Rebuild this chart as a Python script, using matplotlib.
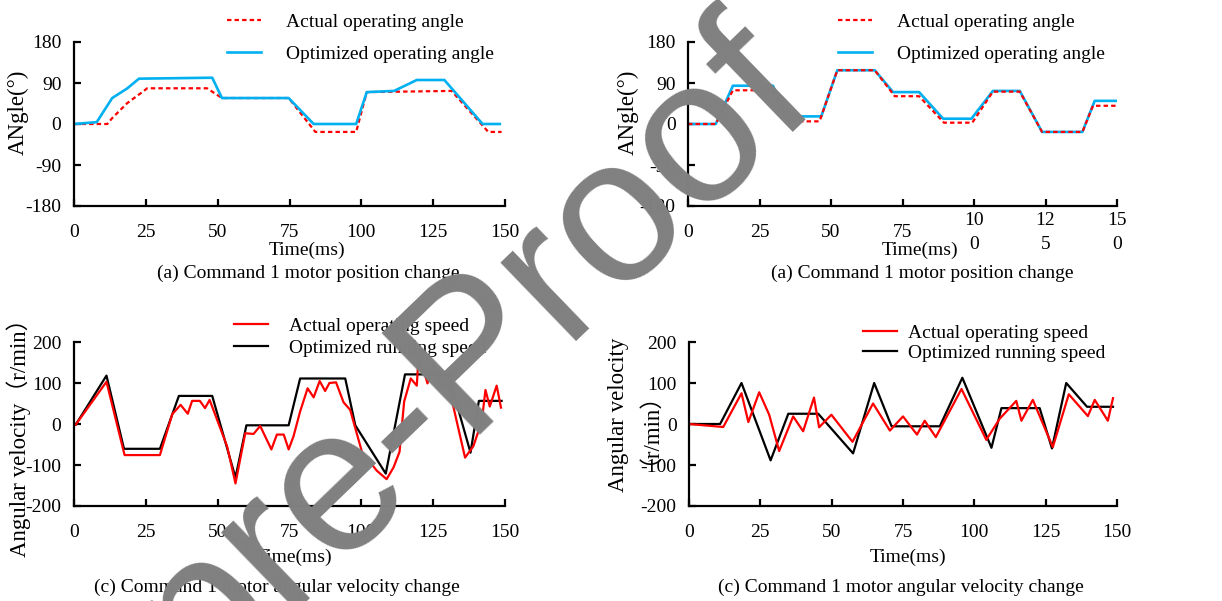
import matplotlib
matplotlib.use("Agg")
import matplotlib.pyplot as plt

W, H = 1222, 601

# ---- data ----
# (a) left: angle (deg) vs time (ms)
pos1_opt_t = [0, 7.9, 13.3, 18.5, 22.6, 48.1, 51.5, 74.7, 83.4, 98.2, 101.9, 111.4, 119.3, 128.9, 142.2, 148.2]
pos1_opt_v = [0, 4, 57, 78, 99.5, 101.6, 57, 57, 0, 0, 70, 72.6, 96.6, 96.6, 0, 0]
pos1_act_t = [0, 11.6, 13.3, 18.5, 23.2, 25.5, 46.3, 51.5, 74.7, 84, 98.2, 101.9, 131.4, 144.2, 148.8]
pos1_act_v = [0, 0, 13, 45.7, 67.5, 78.4, 78.4, 57, 57, -17.4, -17.4, 70, 72.6, -17.4, -17.4]

# (a) right
pos2_opt_t = [0, 9.7, 15.7, 29.7, 34.4, 46.6, 52.2, 65.3, 71.7, 80.8, 89.2, 99.1, 106.6, 116, 123.8, 137.9, 142.2, 150]
pos2_opt_v = [0, 0, 84, 84, 16.7, 16.7, 118, 118, 70, 70, 11.6, 11.6, 72.6, 72.6, -17.4, -17.4, 50.8, 50.8]
pos2_act_t = [0, 9.7, 15.7, 29.7, 35, 46, 52.2, 65.3, 72.3, 80.8, 89.5, 99.4, 106.6, 116, 123.8, 137.9, 141.6, 150]
pos2_act_v = [0, 0, 74, 74, 5.8, 5.8, 118, 118, 61, 61, 2.9, 2.9, 71, 71, -17.4, -17.4, 40, 40]

# (c) left: angular velocity (r/min)
vel1_opt_t = [0.6, 11.3, 17.4, 29.9, 36.5, 48.1, 56.2, 60, 74.7, 78.7, 94.4, 97.9, 108.5, 115.2, 130.3, 138, 140.9, 148.8]
vel1_opt_v = [-1.6, 118, -60.5, -60.5, 68.5, 68.5, -130.6, -3.2, -3.2, 111, 111, -3.2, -121, 121, 121, -70, 56.4, 56.4]
vel1_act_t = [0.6, 11.3, 17.6, 29.9, 34.2, 37.1, 39.6, 41.1, 43.8, 45.6, 47.2, 53.3, 56.2, 59.6, 62.5, 64.8,
              68.7, 70.6, 73, 74.7, 76.4, 78.7, 81.3, 83.4, 85.5, 87.4, 88.9, 91.2, 93.8, 96.1, 100.2, 105.4,
              108.8, 111.2, 113.3, 114.9, 117.2, 119.3, 119.8, 122.2, 123, 125.3, 127.1, 130.3, 136.1, 139,
              141.9, 143.2, 144.7, 147.1, 148.6]
vel1_act_v = [-1.6, 103, -75.8, -75.8, 24, 46.7, 25, 56.4, 56.4, 38.7, 58.8, -54.8, -145, -22.6, -24.2, -4.8,
              -62, -25.8, -25.8, -62, -30, 30.6, 87, 65, 104.8, 80.6, 100, 101.6, 53, 34.7, -67.7, -114,
              -134.6, -106, -67.7, 54.8, 111, 93.5, 151.5, 119, 99, 145, 99, 95, -82, -54,
              6.4, 83, 42.7, 93.5, 40]

# (c) right
vel2_opt_t = [0, 10.9, 18.4, 28.6, 34.8, 45.3, 57.5, 64.9, 71, 87.9, 95.8, 106, 109.5, 122.9, 127.2, 132.2, 139.5, 148.6]
vel2_opt_v = [0, 0, 100, -88.7, 25, 25, -71.7, 100, -5.6, -5.6, 112.8, -58, 38.7, 38.7, -59.6, 100, 42, 42]
vel2_act_t = [0, 12, 18.4, 20.8, 24.6, 28.1, 31.6, 36.5, 40, 43.8, 45.6, 49.9, 57.3, 64.5, 70.4, 75, 79.9,
              82.6, 86.5, 95.5, 104.2, 108.9, 114.7, 116.5, 120.5, 127.5, 133.1, 139.8, 142.2, 146.8, 148.6]
vel2_act_v = [0, -7.3, 75, 4.8, 77.4, 22.6, -66, 18.5, -17.7, 64.5, -8, 22.6, -43.5, 50, -16, 18.5, -25.8,
              8, -32, 85.4, -38.7, 13, 56.4, 8, 58.8, -56.4, 72.5, 19.3, 58.8, 8, 63]

x_ticks = [0, 25, 50, 75, 100, 125, 150]
x_labels = ["0", "25", "50", "75", "100", "125", "150"]
x_labels_wrapped = ["0", "25", "50", "75", "10\n0", "12\n5", "15\n0"]
ang_ticks = [-180, -90, 0, 90, 180]
vel_ticks = [-200, -100, 0, 100, 200]

SERIF = ["Liberation Serif", "Noto Sans CJK SC"]
FS = 14
FS_Y = 16.5
BLUE = "#00b0f0"
RED = "#ff0000"

plt.rcParams["font.family"] = SERIF
plt.rcParams["font.size"] = FS
plt.rcParams["axes.unicode_minus"] = False

fig = plt.figure(figsize=(W / 100, H / 100), dpi=100)


def fx(x):
    return x / W


def fy(y):
    return 1 - y / H


def make_axes(left, top, right, bottom):
    ax = fig.add_axes([fx(left), fy(bottom), fx(right) - fx(left), fy(top) - fy(bottom)])
    for s in ("top", "right"):
        ax.spines[s].set_visible(False)
    for s in ("left", "bottom"):
        ax.spines[s].set_linewidth(1.6)
    ax.tick_params(direction="in", length=5, width=1.6, labelsize=FS)
    ax.tick_params(axis="y", pad=9)
    ax.tick_params(axis="x", pad=19)
    ax.set_xlim(0, 150)
    return ax


def set_xticks(ax, labels):
    ax.set_xticks(x_ticks)
    ax.set_xticklabels(labels, linespacing=1.5)
    for lab in ax.get_xticklabels():
        lab.set_va("center")


def legend(ax, handles, labels, x, y, spacing, textpad):
    ax.legend(handles, labels, loc="center left", bbox_to_anchor=(fx(x), fy(y)),
              bbox_transform=fig.transFigure, frameon=False, borderpad=0,
              handlelength=1.75, handletextpad=textpad, labelspacing=spacing, fontsize=FS)


# ---- (a) left ----
ax1 = make_axes(74, 42, 505, 206)
l1, = ax1.plot(pos1_act_t, pos1_act_v, color=RED, lw=1.6, ls=(0, (2, 1.4)))
l2, = ax1.plot(pos1_opt_t, pos1_opt_v, color=BLUE, lw=1.9)
ax1.set_ylim(-180, 180)
ax1.set_yticks(ang_ticks)
set_xticks(ax1, x_labels)
legend(ax1, [l1, l2], ["Actual operating angle", "Optimized operating angle"], 217, 38, 0.75, 1.3)

# ---- (a) right ----
ax2 = make_axes(688, 42, 1117, 206)
l1, = ax2.plot(pos2_opt_t, pos2_opt_v, color=BLUE, lw=1.9)
l2, = ax2.plot(pos2_act_t, pos2_act_v, color=RED, lw=1.6, ls=(0, (2, 1.4)))
ax2.set_ylim(-180, 180)
ax2.set_yticks(ang_ticks)
set_xticks(ax2, x_labels_wrapped)
legend(ax2, [l2, l1], ["Actual operating angle", "Optimized operating angle"], 828, 38, 0.75, 1.3)

# ---- (c) left ----
ax3 = make_axes(74, 342, 505, 506)
l1, = ax3.plot(vel1_opt_t, vel1_opt_v, color="black", lw=1.6)
l2, = ax3.plot(vel1_act_t, vel1_act_v, color=RED, lw=1.6)
ax3.set_ylim(-200, 200)
ax3.set_yticks(vel_ticks)
set_xticks(ax3, x_labels)
legend(ax3, [l2, l1], ["Actual operating speed", "Optimized running speed"], 224, 337, 0.22, 1.1)

# ---- (c) right ----
ax4 = make_axes(689, 342, 1117, 506)
l1, = ax4.plot(vel2_opt_t, vel2_opt_v, color="black", lw=1.6)
l2, = ax4.plot(vel2_act_t, vel2_act_v, color=RED, lw=1.6)
ax4.set_ylim(-200, 200)
ax4.set_yticks(vel_ticks)
set_xticks(ax4, x_labels)
legend(ax4, [l2, l1], ["Actual operating speed", "Optimized running speed"], 853, 343, 0.15, 0.6)

# ---- labels and captions ----
txt = dict(ha="center", va="center", family=SERIF)
fig.text(fx(307), fy(250), "Time(ms)", fontsize=FS, **txt)
fig.text(fx(920), fy(250), "Time(ms)", fontsize=FS, **txt)
fig.text(fx(294), fy(557), "Time(ms)", fontsize=FS, **txt)
fig.text(fx(908), fy(557), "Time(ms)", fontsize=FS, **txt)
fig.text(fx(308), fy(273), "(a) Command 1 motor position change", fontsize=FS, **txt)
fig.text(fx(922), fy(273), "(a) Command 1 motor position change", fontsize=FS, **txt)
fig.text(fx(277), fy(587), "(c) Command 1 motor angular velocity change", fontsize=FS, **txt)
fig.text(fx(901), fy(587), "(c) Command 1 motor angular velocity change", fontsize=FS, **txt)
fig.text(fx(18), fy(112), "ANgle(°)", rotation=90, fontsize=FS_Y, **txt)
fig.text(fx(628), fy(112), "ANgle(°)", rotation=90, fontsize=FS_Y, **txt)
fig.text(fx(19), fy(432), "Angular velocity（r/min）", rotation=90, fontsize=FS_Y, **txt)
fig.text(fx(618), fy(415), "Angular velocity", rotation=90, fontsize=FS_Y, **txt)
fig.text(fx(638), fy(417), "（r/min）", rotation=90, fontsize=FS_Y, **txt)

# watermark
fig.text(fx(510), fy(392), "pre-Proof", rotation=44, rotation_mode="anchor", ha="center", va="baseline",
         fontsize=148, family="Liberation Sans", color="#808080", zorder=20)

fig.savefig("out.png", dpi=100)
